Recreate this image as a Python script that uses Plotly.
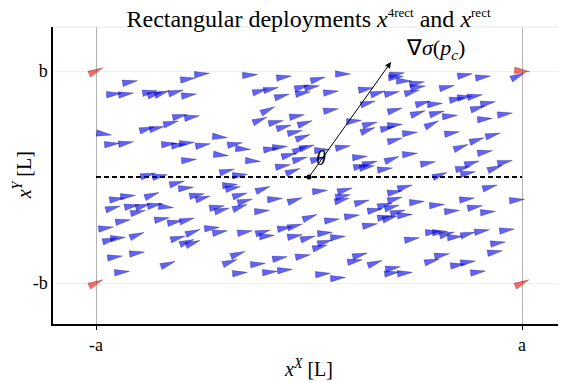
import numpy as np
import plotly.graph_objects as go

# half sizes of the rectangle (symbolic a and b on the axes)
a = 2.13
b = 1.06

# x^rect: blue agents, centre position and heading (degrees, counter-clockwise)
blue_x = [
    # upper left
    -1.79, -1.21, -1.07, -0.59, -0.25, -1.95, -1.83, -1.59, -1.54, -1.47,
    -1.33, -1.20, -0.49, -0.38, -0.27, -0.07, -0.06, -0.41, -0.49, -0.33,
    -0.25, -0.12, -0.04, -0.14, -0.06, -1.29, -1.17, -1.38, -1.62, -1.52,
    -2.05, -1.97, -1.83, -1.40, -1.30, -1.22, -1.06, -0.89, -0.74, -0.66,
    -0.38, -0.29, -1.20, -0.88, -0.56, -0.20, -0.09, -0.02, -0.09, -0.26,
    -0.16, -0.82, -0.69, -1.61, -1.49,
    # upper right
    0.34, 0.09, 0.03, 0.22, 0.88, 0.87, 0.95, 1.08, 1.09, 1.03,
    0.57, 0.69, 0.83, 1.38, 1.56, 1.74, 2.09, 1.48, 1.56, 1.66,
    1.79, 1.69, 1.14, 1.26, 1.28, 1.09, 1.41, 0.86, 0.59, 0.22,
    0.45, 0.61, 0.59, 0.79, 0.86, 1.01, 0.86, 1.23, 1.43, 1.76,
    1.96, 1.84, 1.68, 1.52, 1.76, 0.13, 0.34, 0.09, 0.51, 0.52,
    0.61, 0.58, 0.76, 0.83, 1.01, 1.19, 1.31, 1.54, 1.63, 1.59,
    1.86, 1.96,
    # lower left
    -1.32, -1.23, -0.79, -0.76, -0.46, -1.92, -1.81, -1.57, -1.12, -1.06,
    -0.69, -0.64, -0.69, -0.92, -0.87, -0.34, -0.14, -1.96, -1.77, -1.66,
    -1.54, -1.43, -1.71, -0.47, 0.01, -1.86, -1.47, -1.34, -1.22, -2.03,
    -0.97, -0.89, -1.16, -1.31, -1.22, -1.16, -1.99, -1.91, -1.72, -0.64,
    -0.46, -0.42, -0.24, -0.14, -0.14, -1.94, -1.72, -1.41, -0.79, -0.71,
    -0.51, -0.29, -0.06, -1.87, -0.69, -0.39, -0.24,
    # lower right
    0.11, 0.36, 0.34, 0.33, 0.53, 0.86, 0.96, 0.86, 0.76, 0.66,
    0.83, 1.08, 1.28, 1.43, 1.58, 1.66, 1.79, 1.81, 2.08, 0.23,
    0.43, 0.61, 0.76, 0.81, 0.89, 0.96, -0.01, 0.16, 0.29, 0.16,
    0.11, 1.03, 1.24, 1.31, 1.38, 1.46, 1.59, 1.73, 1.98, 1.89,
    1.86, 0.51, 0.46, 0.66, 0.84, 0.83, 0.96, 1.23, 1.33, 1.49,
    1.59, 1.69, 0.14, 0.29,
]
blue_y = [
    0.95, 0.98, 1.03, 1.02, 1.00, 0.83, 0.83, 0.85, 0.83, 0.84,
    0.85, 0.82, 0.86, 0.88, 0.81, 0.90, 0.84, 0.67, 0.57, 0.55,
    0.50, 0.61, 0.54, 0.45, 0.40, 0.61, 0.60, 0.54, 0.48, 0.49,
    0.43, 0.33, 0.34, 0.33, 0.32, 0.34, 0.32, 0.40, 0.33, 0.28,
    0.28, 0.30, 0.17, 0.22, 0.16, 0.22, 0.28, 0.30, 0.18, 0.11,
    0.06, 0.06, 0.02, 0.02, 0.01,
    1.03, 0.98, 0.90, 0.85, 1.03, 1.00, 0.96, 0.94, 0.90, 0.85,
    0.88, 0.84, 0.84, 0.90, 1.02, 1.00, 1.01, 0.78, 0.80, 0.81,
    0.74, 0.69, 0.74, 0.73, 0.64, 0.64, 0.61, 0.67, 0.74, 0.67,
    0.56, 0.53, 0.47, 0.49, 0.52, 0.44, 0.37, 0.53, 0.44, 0.58,
    0.63, 0.42, 0.37, 0.30, 0.25, 0.27, 0.30, 0.18, 0.20, 0.11,
    0.14, 0.10, 0.08, 0.18, 0.23, 0.14, 0.02, 0.09, 0.14, 0.04,
    0.09, 0.15,
    -0.06, -0.11, -0.08, -0.11, -0.12, -0.22, -0.19, -0.18, -0.18, -0.21,
    -0.18, -0.24, -0.30, -0.30, -0.33, -0.22, -0.23, -0.31, -0.29, -0.29,
    -0.28, -0.30, -0.35, -0.34, -0.40, -0.44, -0.42, -0.45, -0.43, -0.51,
    -0.51, -0.55, -0.55, -0.61, -0.65, -0.66, -0.63, -0.61, -0.58, -0.55,
    -0.55, -0.59, -0.51, -0.49, -0.59, -0.80, -0.76, -0.87, -0.85, -0.77,
    -0.87, -0.81, -0.79, -0.95, -0.96, -0.95, -0.93,
    -0.14, -0.13, -0.19, -0.23, -0.25, -0.15, -0.10, -0.22, -0.28, -0.33,
    -0.30, -0.25, -0.28, -0.34, -0.22, -0.30, -0.35, -0.10, -0.23, -0.43,
    -0.39, -0.48, -0.40, -0.41, -0.35, -0.38, -0.61, -0.56, -0.60, -0.65,
    -0.70, -0.62, -0.55, -0.55, -0.57, -0.60, -0.57, -0.54, -0.53, -0.66,
    -0.75, -0.78, -0.84, -0.86, -0.91, -0.96, -0.96, -0.84, -0.78, -0.88,
    -0.85, -0.95, -0.97, -1.01,
]
blue_angle = [
    10, 8, 5, 3, 8, 5, 8, 10, 15, 18,
    15, 8, 15, 12, 15, 15, 10, 25, 22, 12,
    15, 10, 18, 12, 20, 12, 10, 15, 15, 12,
    -8, 5, 10, 5, 8, 5, 10, -5, 10, -3,
    8, 5, 5, -5, -3, 15, 25, 15, 15, 10,
    20, 15, 5, 15, 10,
    0, 15, 10, 8, 10, 5, 0, 10, 8, 15,
    10, 15, 12, 12, 10, 8, 25, 10, 8, 10,
    10, 15, 15, 5, 15, 18, 5, 15, 15, 10,
    5, 15, 20, 12, 5, 5, 15, 25, 10, 5,
    8, 15, 18, 20, 10, 5, 10, 15, 5, 12,
    15, 10, 8, 20, 5, 10, 20, 12, 15, 10,
    20, 12,
    15, 5, 5, 10, 20, 8, 5, 20, 10, 15,
    15, 15, 20, 10, 15, 5, 18, 15, 10, 15,
    10, -5, 12, 5, 20, 10, 10, 10, 15, 8,
    5, 10, 20, 15, 20, 20, 15, 5, 20, 10,
    15, 5, 10, 15, 10, 8, 8, 20, 20, 20,
    5, 10, 10, 5, 5, 5, 5,
    5, 15, 10, 15, 15, 10, 15, 15, 15, 10,
    15, 5, 5, 5, 8, 10, 5, 15, 5, 8,
    8, 10, 10, 15, 15, 5, 15, 5, 5, 15,
    15, 10, 5, 5, 15, 5, 15, 10, 8, 8,
    10, 15, 10, 20, 10, 8, 5, 15, 10, 8,
    8, 8, 5, 5,
]

# x^4rect: red agents at the corners
red_x = [-a, a, -a, a]
red_y = [b, b, -b, -b]
red_angle = [25, -5, 25, 25]

# gradient direction at the centre
grad_x = 0.82
grad_y = 1.15

SERIF = "Liberation Serif"


def dart(x0, y0, ang, length=0.15, width=0.065):
    t = np.radians(ang)
    pts = [(length / 2, 0), (-length / 2, width / 2), (-length / 2, -width / 2), (length / 2, 0)]
    xs = [x0 + px * np.cos(t) - py * np.sin(t) for px, py in pts]
    ys = [y0 + px * np.sin(t) + py * np.cos(t) for px, py in pts]
    return xs, ys


fig = go.Figure()

# dashed reference line
fig.add_trace(go.Scatter(x=[-a, a], y=[0, 0], mode="lines",
                         line=dict(color="black", width=2, dash="5px,3px"),
                         hoverinfo="skip"))

for x0, y0, ang in zip(blue_x, blue_y, blue_angle):
    xs, ys = dart(x0, y0, ang)
    fig.add_trace(go.Scatter(x=xs, y=ys, mode="lines", fill="toself",
                             fillcolor="rgba(0,0,250,0.62)",
                             line=dict(color="rgba(0,0,60,0.45)", width=0.6),
                             hoverinfo="skip"))

for x0, y0, ang in zip(red_x, red_y, red_angle):
    xs, ys = dart(x0, y0, ang)
    fig.add_trace(go.Scatter(x=xs, y=ys, mode="lines", fill="toself",
                             fillcolor="rgba(255,0,0,0.6)",
                             line=dict(color="rgba(60,0,0,0.45)", width=0.6),
                             hoverinfo="skip"))

# centre point
fig.add_trace(go.Scatter(x=[0], y=[0], mode="markers",
                         marker=dict(color="black", size=5), hoverinfo="skip"))

fig.add_annotation(x=grad_x, y=grad_y, ax=0, ay=0, xref="x", yref="y",
                   axref="x", ayref="y", text="", showarrow=True,
                   arrowhead=2, arrowsize=1.2, arrowwidth=1, arrowcolor="black")
fig.add_annotation(x=grad_x + 0.13, y=grad_y + 0.13, xref="x", yref="y",
                   text="∇<i>σ</i>(<i>p</i><sub><i>c</i></sub>)", showarrow=False,
                   xanchor="left", font=dict(family=SERIF, size=22, color="black"))
fig.add_annotation(x=0.12, y=0.19, xref="x", yref="y", text="<i>θ</i>",
                   showarrow=False, font=dict(family=SERIF, size=20, color="black"))

# axis titles
fig.add_annotation(x=0.5, y=-0.148, xref="paper", yref="paper",
                   text="<i>x</i><sup><i>X</i></sup> [L]", showarrow=False,
                   yanchor="middle", font=dict(family=SERIF, size=20, color="black"))
fig.add_annotation(x=-0.061, y=0.5, xref="paper", yref="paper",
                   text="<i>x</i><sup><i>Y</i></sup> [L]", showarrow=False,
                   textangle=-90, xanchor="center",
                   font=dict(family=SERIF, size=20, color="black"))

# light top border of the box
fig.add_shape(type="line", xref="paper", yref="paper", x0=0, x1=1, y0=1, y1=1,
              line=dict(color="#e6e6e6", width=1))

title_text = ("Rectangular deployments <i>x</i><sup><span style='font-size:13px'>4rect</span></sup>"
              " and <i>x</i><sup><span style='font-size:13px'>rect</span></sup>")

# the page body has an 8px margin, so the figure is 8px smaller than the window
fig.update_layout(
    width=558, height=374,
    margin=dict(l=45, r=2, t=19, b=58, autoexpand=False),
    plot_bgcolor="white", paper_bgcolor="white",
    showlegend=False,
    font=dict(family=SERIF, size=18, color="black"),
    title=dict(text=title_text,
               x=0.5, xref="paper", y=0.972, yref="container", yanchor="middle",
               font=dict(family=SERIF, size=24, color="black")),
    xaxis=dict(range=[-2.56, 2.55], tickvals=[-a, a], ticktext=["-a", "a"],
               automargin=False,
               showgrid=True, gridcolor="#b4b4b4", gridwidth=1, zeroline=False,
               showline=True, linecolor="black", linewidth=1.5,
               ticks="outside", ticklen=4, tickcolor="black"),
    yaxis=dict(range=[-1.47, 1.50], tickvals=[-b, b], ticktext=["-b", "b"],
               automargin=False,
               showgrid=True, gridcolor="#f0f0f0", gridwidth=1, zeroline=False,
               showline=True, mirror=True, linecolor="black", linewidth=1.5,
               ticks=""),
)

fig.write_html("out.html")
